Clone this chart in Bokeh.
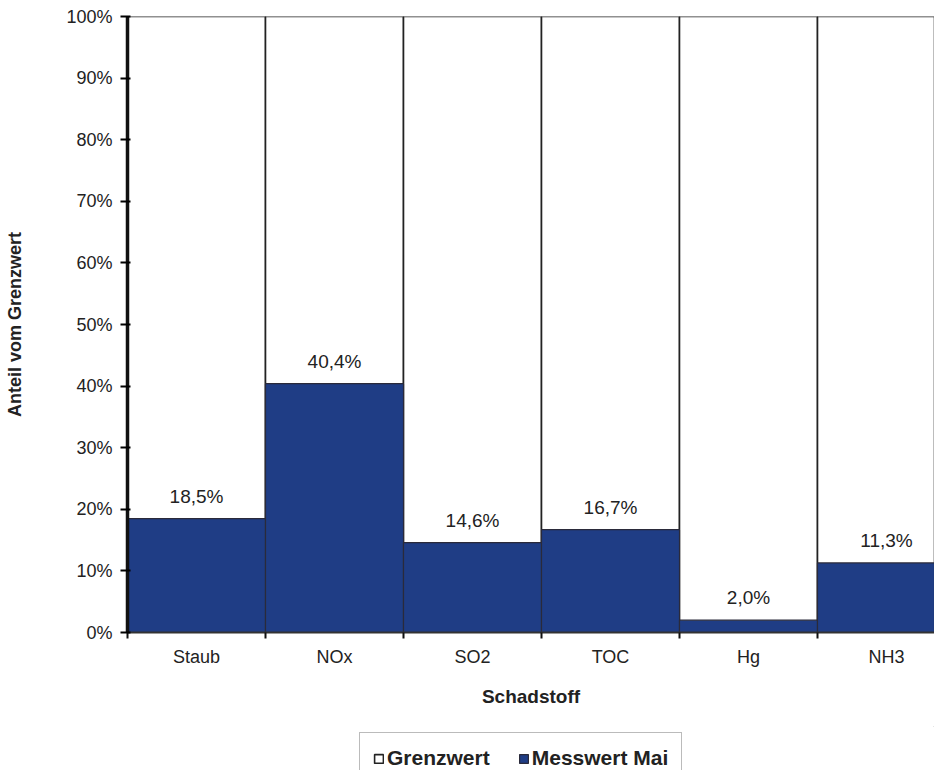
from bokeh.plotting import figure
from bokeh.layouts import column
from bokeh.models import (ColumnDataSource, FixedTicker, Legend, LegendItem,
                          LabelSet)
from bokeh.core.properties import value
from bokeh.embed import file_html
from bokeh.resources import INLINE

categories = ["Staub", "NOx", "SO2", "TOC", "Hg", "NH3"]
grenzwert = [100, 100, 100, 100, 100, 100]
messwert_mai = [18.5, 40.4, 14.6, 16.7, 2.0, 11.3]
y_ticks = [0, 10, 20, 30, 40, 50, 60, 70, 80, 90, 100]

xs = [i + 0.5 for i in range(len(categories))]
labels = [("%.1f" % v).replace(".", ",") + "%" for v in messwert_mai]

src = ColumnDataSource(dict(x=xs, g=grenzwert, m=messwert_mai, lab=labels))

FONT = "Liberation Sans"
BLUE = "#1f3d85"
TXT = "#222222"
G_STYLE = dict(fill_color="white", line_color="#222222", line_width=1.6)
M_STYLE = dict(fill_color=BLUE, line_color="#2a2a3a", line_width=1.2)

p = figure(frame_width=807, frame_height=616, output_backend="svg",
           toolbar_location=None,
           x_range=(0, 807 / 138.0), y_range=(0, 100),
           min_border_left=127, min_border_right=0, min_border_top=16,
           min_border_bottom=94)
p.outline_line_color = None
p.grid.visible = False
p.background_fill_color = "white"

p.vbar(x="x", top="g", width=1, bottom=0, source=src, **G_STYLE)
p.vbar(x="x", top="m", width=1, bottom=0, source=src, **M_STYLE)

p.add_layout(LabelSet(x="x", y="m", text="lab", source=src,
                      text_align="center", text_baseline="bottom",
                      y_offset=12, text_font=value(FONT), text_font_size="19px",
                      text_color=TXT))

# y axis
p.yaxis.ticker = FixedTicker(ticks=y_ticks)
p.yaxis.major_label_overrides = {t: f"{t}%" for t in y_ticks}
p.yaxis.major_label_text_font = FONT
p.yaxis.major_label_text_font_size = "18px"
p.yaxis.major_label_text_color = TXT
p.yaxis.axis_line_width = 3.5
p.yaxis.axis_line_color = "#111111"
p.yaxis.major_tick_line_width = 2
p.yaxis.major_tick_out = 7
p.yaxis.major_tick_in = 3
p.yaxis.minor_tick_line_color = None
p.yaxis.major_label_standoff = 8
p.yaxis.axis_label = "Anteil vom Grenzwert"
p.yaxis.axis_label_text_font = FONT
p.yaxis.axis_label_text_font_size = "18px"
p.yaxis.axis_label_text_font_style = "bold"
p.yaxis.axis_label_text_color = TXT
p.yaxis.axis_label_standoff = 38

# x axis
p.xaxis.ticker = FixedTicker(ticks=xs, minor_ticks=[0, 1, 2, 3, 4, 5, 6])
p.xaxis.major_label_overrides = {x: c for x, c in zip(xs, categories)}
p.xaxis.major_tick_out = 0
p.xaxis.major_tick_in = 0
p.xaxis.minor_tick_out = 6
p.xaxis.minor_tick_in = 0
p.xaxis.minor_tick_line_width = 2
p.xaxis.minor_tick_line_color = "#111111"
p.xaxis.axis_line_width = 2
p.xaxis.axis_line_color = "#333333"
p.xaxis.major_label_text_font = FONT
p.xaxis.major_label_text_font_size = "18px"
p.xaxis.major_label_text_color = TXT
p.xaxis.major_label_standoff = 8
p.xaxis.axis_label = "Schadstoff"
p.xaxis.axis_label_text_font = FONT
p.xaxis.axis_label_text_font_size = "19px"
p.xaxis.axis_label_text_font_style = "bold"
p.xaxis.axis_label_text_color = TXT
p.xaxis.axis_label_standoff = 16

# legend strip below the chart (frame aligned with the chart's frame)
lf = figure(frame_width=807, frame_height=44, output_backend="svg",
            toolbar_location=None,
            x_range=(0, 1), y_range=(0, 1), x_axis_type=None, y_axis_type=None,
            min_border_left=127, min_border_right=0, min_border_top=0,
            min_border_bottom=0)
lf.outline_line_color = None
lf.grid.visible = False
lg_src = ColumnDataSource(dict(x=[5.0], t=[6.0]))  # outside the visible range
lr_g = lf.vbar(x="x", top="t", bottom=5.5, width=0.1, source=lg_src, **G_STYLE)
lr_m = lf.vbar(x="x", top="t", bottom=5.5, width=0.1, source=lg_src, **M_STYLE)

legend = Legend(items=[LegendItem(label="Grenzwert", renderers=[lr_g]),
                       LegendItem(label="Messwert Mai", renderers=[lr_m])],
                orientation="horizontal", location=(232, -14),
                label_text_font=FONT, label_text_font_size="21px",
                label_text_font_style="bold", label_text_color=TXT,
                glyph_width=11, glyph_height=11, label_standoff=3,
                label_height=24, spacing=28, padding=13, margin=0,
                border_line_color="#777777", border_line_width=1.5,
                background_fill_color="white")
lf.add_layout(legend, "center")

open("out.html", "w").write(file_html(column(p, lf), INLINE))
